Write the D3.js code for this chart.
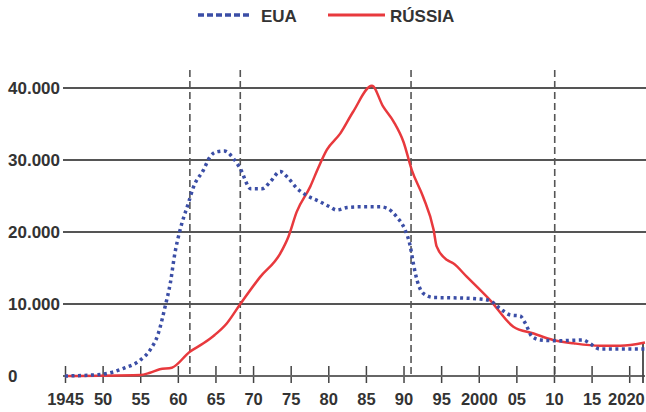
<!DOCTYPE html>
<html><head><meta charset="utf-8">
<script src="https://cdn.jsdelivr.net/npm/d3@7"></script>
<style>
html,body{margin:0;padding:0;background:#fff;}
svg{display:block;font-family:"Liberation Sans",Arial,sans-serif;}
</style></head>
<body><svg id="c" width="646" height="412"></svg>
<script>
const usYears = [1945,1949.9,1952.8,1955,1956.3,1957.4,1958.3,1959,1959.6,1960.3,1961.4,1962.1,1963.4,1964.3,1965.2,1966.2,1967.4,1968.3,1969.7,1971.2,1972.3,1973.6,1974.7,1975.8,1977.1,1978.9,1980.2,1981.1,1982.5,1984.2,1986.9,1987.8,1989.1,1990.2,1990.9,1991.3,1991.8,1992.6,1994,1996.2,2000.2,2001.5,2002.8,2004.2,2005.5,2006.2,2007.1,2008.2,2010.4,2013.9,2014.6,2016.1,2022.1];
const usValues = [0,240,1070,2200,3600,5900,9600,12900,17000,20300,24000,26300,28600,30500,31150,31250,30200,28800,26000,26000,27000,28400,27450,26100,25100,24200,23500,23050,23400,23500,23500,23300,22100,20300,18000,15650,13300,11500,10900,10870,10700,10450,9400,8470,8330,7300,5460,5000,4900,5000,4630,3750,3750];
const ruYears = [1945,1955,1956.3,1957.6,1959.2,1961.6,1963.4,1964.9,1966.5,1968.3,1970.9,1973.6,1974.7,1975.8,1977.6,1978.7,1979.8,1981.6,1983.3,1985.8,1987.3,1988.7,1990,1991.1,1992.6,1994,1994.4,1995.8,1996.6,1998.4,2001.5,2004.6,2007.3,2009.9,2012.6,2016.1,2018.8,2022.1];
const ruValues = [0,140,460,930,1150,3375,4540,5700,7300,10000,13700,17000,19350,22800,26300,29000,31400,33700,36700,40300,37400,35300,32500,28600,24900,20300,18000,16100,15650,13800,10550,6850,5900,5000,4540,4200,4200,4650];
const xTickYears = [1945,1950,1955,1960,1965,1970,1975,1980,1985,1990,1995,2000,2005,2010,2015,2020];
const xTickLabels = ["1945","50","55","60","65","70","75","80","85","90","95","2000","05","10","15","2020"];
const yTickValues = [0,10000,20000,30000,40000];
const yTickLabels = ["0","10.000","20.000","30.000","40.000"];
const eventYears = [1961.6,1968.3,1991.0,2010.1];
const seriesNames = ["EUA","RÚSSIA"];

const svg = d3.select("#c");
const x = d3.scaleLinear().domain([1945,2022.1]).range([65,645]);
const y = d3.scaleLinear().domain([0,40000]).range([376,88]);
const blue = "#3b4ea6", red = "#e8393d", grid = "#555", txt = "#333";

// gridlines
svg.append("g").selectAll("line").data(yTickValues.slice(1)).join("line")
  .attr("x1",63).attr("x2",646).attr("y1",d=>y(d)).attr("y2",d=>y(d))
  .attr("stroke",grid).attr("stroke-width",1.8);
// y labels
svg.append("g").selectAll("text").data(yTickValues).join("text")
  .attr("x",8).attr("y",d=>y(d)+6).text((d,i)=>yTickLabels[i])
  .attr("font-size",17).attr("font-weight","bold").attr("fill",txt);

// event dashed lines
svg.append("g").selectAll("line").data(eventYears).join("line")
  .attr("x1",d=>x(d)).attr("x2",d=>x(d)).attr("y1",70).attr("y2",y(0))
  .attr("stroke","#555").attr("stroke-width",1.6).attr("stroke-dasharray","7,4");

// x axis
const xa = svg.append("g").attr("transform",`translate(0,${y(0)})`)
  .call(d3.axisBottom(x).tickValues(xTickYears).tickFormat((d,i)=>xTickLabels[i]).tickSize(7).tickPadding(10));
xa.select(".domain").remove();
xa.append("line").attr("x1",63).attr("x2",645).attr("stroke","#666").attr("stroke-width",1.8);
xa.append("line").attr("x1",643).attr("x2",643).attr("y1",-33).attr("y2",7).attr("stroke","#444").attr("stroke-width",1.8);
xa.selectAll(".tick line").attr("y1",-10).attr("y2",7).attr("stroke","#444").attr("stroke-width",1.5);
xa.selectAll(".tick text").attr("font-size",16.5).attr("font-weight","bold").attr("fill",txt)
  .attr("font-family","'Liberation Sans',Arial,sans-serif");
// keep the last label inside the frame
xa.selectAll(".tick text").filter(d=>d===2020).attr("text-anchor","end").attr("x",x(2022)-x(2020));

const line = d3.line().x(d=>x(d[0])).y(d=>y(d[1])).curve(d3.curveMonotoneX);
svg.append("path").datum(ruYears.map((t,i)=>[t,ruValues[i]])).attr("d",line)
  .attr("fill","none").attr("stroke",red).attr("stroke-width",2.5);
svg.append("path").datum(usYears.map((t,i)=>[t,usValues[i]])).attr("d",line)
  .attr("fill","none").attr("stroke",blue).attr("stroke-width",3.5).attr("stroke-dasharray","3,3.5");

// legend
const lg = svg.append("g");
lg.append("line").attr("x1",198).attr("x2",252).attr("y1",15).attr("y2",15)
  .attr("stroke",blue).attr("stroke-width",3.5).attr("stroke-dasharray","6,3");
lg.append("text").attr("x",261).attr("y",21.5).text(seriesNames[0])
  .attr("font-size",17).attr("font-weight","bold").attr("fill",txt);
lg.append("line").attr("x1",328).attr("x2",385).attr("y1",15).attr("y2",15)
  .attr("stroke",red).attr("stroke-width",3);
lg.append("text").attr("x",390).attr("y",21.5).text(seriesNames[1])
  .attr("font-size",17).attr("font-weight","bold").attr("fill",txt);
</script></body></html>
